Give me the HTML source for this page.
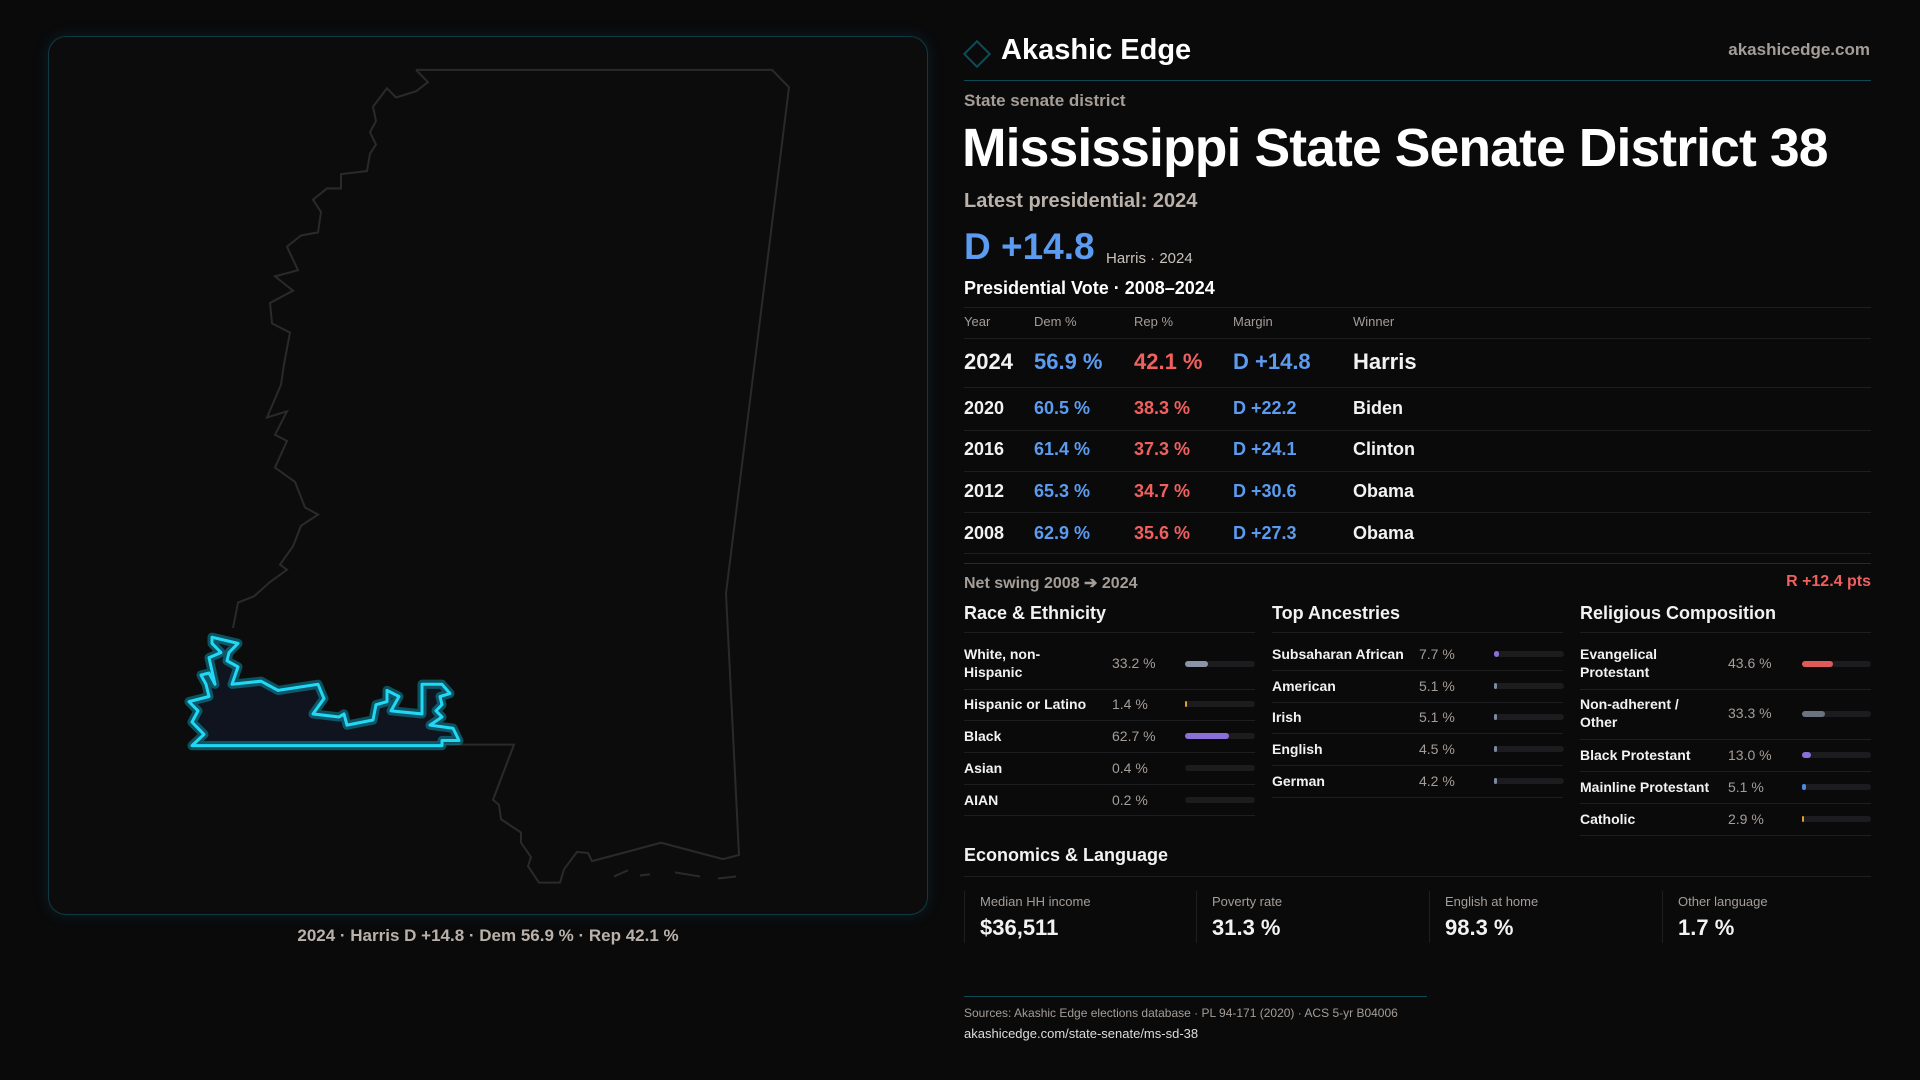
<!DOCTYPE html>
<html><head><meta charset="utf-8"><style>
*{margin:0;padding:0;box-sizing:border-box}
body{width:1920px;height:1080px;background:#0a0a0b;font-family:"Liberation Sans",sans-serif;color:#f2f2f2;position:relative;overflow:hidden}
.a{position:absolute;white-space:nowrap}
.g{color:#a59d97}
.b{color:#5b9cf0}.r{color:#f0605f}
.ln{position:absolute;height:1px;background:#1e1e20}
.bar{position:absolute;height:6px;border-radius:3px;background:#1c1c1f}
.bar i{position:absolute;left:0;top:0;height:6px;border-radius:3px}
.lab{font-size:14px;font-weight:bold;line-height:18px}
.val{font-size:14px;color:#a59d97;line-height:18px}
</style></head><body>
<!-- map panel -->
<div class="a" style="left:48px;top:36px;width:880px;height:879px;border:1px solid #0f3a44;border-radius:18px;background:#0c0c0d;box-shadow:0 0 14px rgba(20,90,110,0.25)"></div>
<svg class="a" style="left:0;top:0" width="960" height="1000" viewBox="0 0 960 1000">
<g transform="matrix(1,0,0,1.0223,0,-0.67)">
<polyline fill="none" stroke="#2a2a2c" stroke-width="2" points="416,69 772,69 789,86 726,581 739,837 723,841 661,825 592,843 588,835 577,834 564,851 560,864 539,864 528,848 531,839 521,825 521,815 501,802 499,788 493,783 514,729 442,729"/>
<polyline fill="none" stroke="#2a2a2c" stroke-width="2" points="233,615 238,590 254,584 270,570 287,558 280,553 293,535 301,515 318,504 305,497 295,472 275,458 287,432 275,426 287,403 267,409 281,377 284,357 290,326 272,317 270,297 293,285 275,271 298,265 287,242 301,231 318,228 321,208 313,196 327,185 341,185 341,171 367,168 370,151 376,142 370,130 376,119 373,105 387,87 396,96 416,90 428,81 416,69"/>
<g stroke="#2a2a2c" stroke-width="2"><line x1="614" y1="858" x2="628" y2="852"/><line x1="640" y1="857" x2="650" y2="856"/><line x1="675" y1="854" x2="700" y2="858"/><line x1="718" y1="860" x2="736" y2="858"/></g>
<polygon fill="#0f141e" stroke="#0aa9c4" stroke-opacity="0.45" stroke-width="9" stroke-linejoin="round" points="212,624 238,630 229,639 227,647 238,653 232,670 261,667 278,676 318,670 324,684 313,699 339,702 344,699 347,710 373,705 376,690 387,687 387,676 399,682 391,696 422,699 422,670 442,670 450,679 440,682 442,690 436,696 442,702 430,710 453,713 459,725 442,725 442,730 192,730 204,719 192,707 198,696 189,687 209,682 206,670 201,661 209,659 215,670 209,644 221,639 212,630"/>
<polygon fill="none" stroke="#22d8f5" stroke-width="3" stroke-linejoin="round" points="212,624 238,630 229,639 227,647 238,653 232,670 261,667 278,676 318,670 324,684 313,699 339,702 344,699 347,710 373,705 376,690 387,687 387,676 399,682 391,696 422,699 422,670 442,670 450,679 440,682 442,690 436,696 442,702 430,710 453,713 459,725 442,725 442,730 192,730 204,719 192,707 198,696 189,687 209,682 206,670 201,661 209,659 215,670 209,644 221,639 212,630"/>
</g>
</svg>
<div class="a" style="left:48px;width:880px;top:926px;text-align:center;font-size:17px;font-weight:bold;color:#b9b1aa">2024 · Harris D +14.8 · Dem 56.9 % · Rep 42.1 %</div>

<!-- header -->
<div class="a" style="left:967px;top:44px;width:20px;height:20px;border:2px solid #0f4c58;transform:rotate(45deg)"></div>
<div class="a" style="left:1001px;top:34px;font-size:29px;font-weight:bold;color:#fff">Akashic Edge</div>
<div class="a g" style="right:50px;top:40px;font-size:17px;font-weight:bold">akashicedge.com</div>
<div class="a" style="left:964px;top:80px;width:907px;height:1px;background:#0e4a55"></div>
<div class="a g" style="left:964px;top:91px;font-size:17px;font-weight:bold">State senate district</div>
<div class="a" style="left:962px;top:118px;font-size:53.5px;font-weight:bold;color:#fff;letter-spacing:-0.9px">Mississippi State Senate District 38</div>
<div class="a" style="left:964px;top:190px;font-size:20px;font-weight:bold;color:#b9b1aa">Latest presidential: 2024</div>
<div class="a b" style="left:964px;top:226px;font-size:37px;font-weight:bold">D +14.8</div>
<div class="a" style="left:1106px;top:250px;font-size:15px;color:#c9c2bb">Harris · 2024</div>
<div class="a" style="left:964px;top:278px;font-size:18px;font-weight:bold;color:#fff">Presidential Vote · 2008–2024</div>
<div class="ln" style="left:964px;width:907px;top:307px"></div>
<div class="a g" style="left:964px;top:314px;font-size:13px">Year</div>
<div class="a g" style="left:1034px;top:314px;font-size:13px">Dem %</div>
<div class="a g" style="left:1134px;top:314px;font-size:13px">Rep %</div>
<div class="a g" style="left:1233px;top:314px;font-size:13px">Margin</div>
<div class="a g" style="left:1353px;top:314px;font-size:13px">Winner</div>
<div class="ln" style="left:964px;width:907px;top:338px"></div>
<div style="font-size:22px;font-weight:bold">
<div class="a" style="left:964px;top:349px">2024</div><div class="a b" style="left:1034px;top:349px">56.9 %</div><div class="a r" style="left:1134px;top:349px">42.1 %</div><div class="a b" style="left:1233px;top:349px">D +14.8</div><div class="a" style="left:1353px;top:349px">Harris</div></div>
<div class="ln" style="left:964px;width:907px;top:387px"></div>
<div style="font-size:18px;font-weight:bold">
<div class="a" style="left:964px;top:398px">2020</div><div class="a b" style="left:1034px;top:398px">60.5 %</div><div class="a r" style="left:1134px;top:398px">38.3 %</div><div class="a b" style="left:1233px;top:398px">D +22.2</div><div class="a" style="left:1353px;top:398px">Biden</div>
<div class="a" style="left:964px;top:439px">2016</div><div class="a b" style="left:1034px;top:439px">61.4 %</div><div class="a r" style="left:1134px;top:439px">37.3 %</div><div class="a b" style="left:1233px;top:439px">D +24.1</div><div class="a" style="left:1353px;top:439px">Clinton</div>
<div class="a" style="left:964px;top:481px">2012</div><div class="a b" style="left:1034px;top:481px">65.3 %</div><div class="a r" style="left:1134px;top:481px">34.7 %</div><div class="a b" style="left:1233px;top:481px">D +30.6</div><div class="a" style="left:1353px;top:481px">Obama</div>
<div class="a" style="left:964px;top:523px">2008</div><div class="a b" style="left:1034px;top:523px">62.9 %</div><div class="a r" style="left:1134px;top:523px">35.6 %</div><div class="a b" style="left:1233px;top:523px">D +27.3</div><div class="a" style="left:1353px;top:523px">Obama</div></div>
<div class="ln" style="left:964px;width:907px;top:430px"></div>
<div class="ln" style="left:964px;width:907px;top:471px"></div>
<div class="ln" style="left:964px;width:907px;top:512px"></div>
<div class="ln" style="left:964px;width:907px;top:553px"></div>
<div class="ln" style="left:964px;width:907px;top:563px;background:#2a2a2d"></div>
<div class="a g" style="left:964px;top:573px;font-size:16px;font-weight:bold">Net swing 2008 ➔ 2024</div>
<div class="a r" style="right:49px;top:573px;font-size:16px;font-weight:bold">R +12.4 pts</div>

<!-- sections -->
<div class="a" style="left:964px;top:603px;font-size:18px;font-weight:bold">Race &amp; Ethnicity</div>
<div class="a" style="left:1272px;top:603px;font-size:18px;font-weight:bold">Top Ancestries</div>
<div class="a" style="left:1580px;top:603px;font-size:18px;font-weight:bold">Religious Composition</div>
<div class="ln" style="left:964px;width:291px;top:632px"></div>
<div class="ln" style="left:1272px;width:291px;top:632px"></div>
<div class="ln" style="left:1580px;width:291px;top:632px"></div>

<!-- race -->
<div class="a lab" style="left:964px;top:645px">White, non-<br>Hispanic</div><div class="a val" style="left:1112px;top:654px">33.2 %</div><div class="bar" style="left:1185px;top:661px;width:70px"><i style="width:23px;background:#8a94a6"></i></div>
<div class="ln" style="left:964px;width:291px;top:689px"></div>
<div class="a lab" style="left:964px;top:695px">Hispanic or Latino</div><div class="a val" style="left:1112px;top:695px">1.4 %</div><div class="bar" style="left:1185px;top:701px;width:70px"><i style="width:2px;background:#e0a030"></i></div>
<div class="ln" style="left:964px;width:291px;top:720px"></div>
<div class="a lab" style="left:964px;top:727px">Black</div><div class="a val" style="left:1112px;top:727px">62.7 %</div><div class="bar" style="left:1185px;top:733px;width:70px"><i style="width:44px;background:#8a6fd8"></i></div>
<div class="ln" style="left:964px;width:291px;top:752px"></div>
<div class="a lab" style="left:964px;top:759px">Asian</div><div class="a val" style="left:1112px;top:759px">0.4 %</div><div class="bar" style="left:1185px;top:765px;width:70px"></div>
<div class="ln" style="left:964px;width:291px;top:784px"></div>
<div class="a lab" style="left:964px;top:791px">AIAN</div><div class="a val" style="left:1112px;top:791px">0.2 %</div><div class="bar" style="left:1185px;top:797px;width:70px"></div>
<div class="ln" style="left:964px;width:291px;top:815px"></div>

<!-- ancestries -->
<div class="a lab" style="left:1272px;top:645px">Subsaharan African</div><div class="a val" style="left:1419px;top:645px">7.7 %</div><div class="bar" style="left:1494px;top:651px;width:70px"><i style="width:5px;background:#8a6fd8"></i></div>
<div class="ln" style="left:1272px;width:291px;top:670px"></div>
<div class="a lab" style="left:1272px;top:677px">American</div><div class="a val" style="left:1419px;top:677px">5.1 %</div><div class="bar" style="left:1494px;top:683px;width:70px"><i style="width:3px;background:#7a8aa0"></i></div>
<div class="ln" style="left:1272px;width:291px;top:702px"></div>
<div class="a lab" style="left:1272px;top:708px">Irish</div><div class="a val" style="left:1419px;top:708px">5.1 %</div><div class="bar" style="left:1494px;top:714px;width:70px"><i style="width:3px;background:#7a8aa0"></i></div>
<div class="ln" style="left:1272px;width:291px;top:733px"></div>
<div class="a lab" style="left:1272px;top:740px">English</div><div class="a val" style="left:1419px;top:740px">4.5 %</div><div class="bar" style="left:1494px;top:746px;width:70px"><i style="width:3px;background:#7a8aa0"></i></div>
<div class="ln" style="left:1272px;width:291px;top:765px"></div>
<div class="a lab" style="left:1272px;top:772px">German</div><div class="a val" style="left:1419px;top:772px">4.2 %</div><div class="bar" style="left:1494px;top:778px;width:70px"><i style="width:3px;background:#7a8aa0"></i></div>
<div class="ln" style="left:1272px;width:291px;top:797px"></div>

<!-- religion -->
<div class="a lab" style="left:1580px;top:645px">Evangelical<br>Protestant</div><div class="a val" style="left:1728px;top:654px">43.6 %</div><div class="bar" style="left:1802px;top:661px;width:69px"><i style="width:31px;background:#e05a5a"></i></div>
<div class="ln" style="left:1580px;width:291px;top:689px"></div>
<div class="a lab" style="left:1580px;top:695px">Non-adherent /<br>Other</div><div class="a val" style="left:1728px;top:704px">33.3 %</div><div class="bar" style="left:1802px;top:711px;width:69px"><i style="width:23px;background:#6b7280"></i></div>
<div class="ln" style="left:1580px;width:291px;top:739px"></div>
<div class="a lab" style="left:1580px;top:746px">Black Protestant</div><div class="a val" style="left:1728px;top:746px">13.0 %</div><div class="bar" style="left:1802px;top:752px;width:69px"><i style="width:9px;background:#8a6fd8"></i></div>
<div class="ln" style="left:1580px;width:291px;top:771px"></div>
<div class="a lab" style="left:1580px;top:778px">Mainline Protestant</div><div class="a val" style="left:1728px;top:778px">5.1 %</div><div class="bar" style="left:1802px;top:784px;width:69px"><i style="width:4px;background:#4a8ae0"></i></div>
<div class="ln" style="left:1580px;width:291px;top:803px"></div>
<div class="a lab" style="left:1580px;top:810px">Catholic</div><div class="a val" style="left:1728px;top:810px">2.9 %</div><div class="bar" style="left:1802px;top:816px;width:69px"><i style="width:2px;background:#e0a030"></i></div>
<div class="ln" style="left:1580px;width:291px;top:835px"></div>

<!-- economics -->
<div class="a" style="left:964px;top:845px;font-size:18px;font-weight:bold">Economics &amp; Language</div>
<div class="ln" style="left:964px;width:907px;top:876px"></div>
<div class="ln" style="left:964px;width:1px;height:52px;top:891px"></div>
<div class="ln" style="left:1196px;width:1px;height:52px;top:891px"></div>
<div class="ln" style="left:1429px;width:1px;height:52px;top:891px"></div>
<div class="ln" style="left:1662px;width:1px;height:52px;top:891px"></div>
<div class="a g" style="left:980px;top:894px;font-size:13px">Median HH income</div><div class="a" style="left:980px;top:915px;font-size:22px;font-weight:bold">$36,511</div>
<div class="a g" style="left:1212px;top:894px;font-size:13px">Poverty rate</div><div class="a" style="left:1212px;top:915px;font-size:22px;font-weight:bold">31.3 %</div>
<div class="a g" style="left:1445px;top:894px;font-size:13px">English at home</div><div class="a" style="left:1445px;top:915px;font-size:22px;font-weight:bold">98.3 %</div>
<div class="a g" style="left:1678px;top:894px;font-size:13px">Other language</div><div class="a" style="left:1678px;top:915px;font-size:22px;font-weight:bold">1.7 %</div>

<div class="a" style="left:964px;top:996px;width:463px;height:1px;background:#0e4a55"></div>
<div class="a g" style="left:964px;top:1006px;font-size:12px">Sources: Akashic Edge elections database · PL 94-171 (2020) · ACS 5-yr B04006</div>
<div class="a" style="left:964px;top:1026px;font-size:13px;color:#ddd">akashicedge.com/state-senate/ms-sd-38</div>
</body></html>
